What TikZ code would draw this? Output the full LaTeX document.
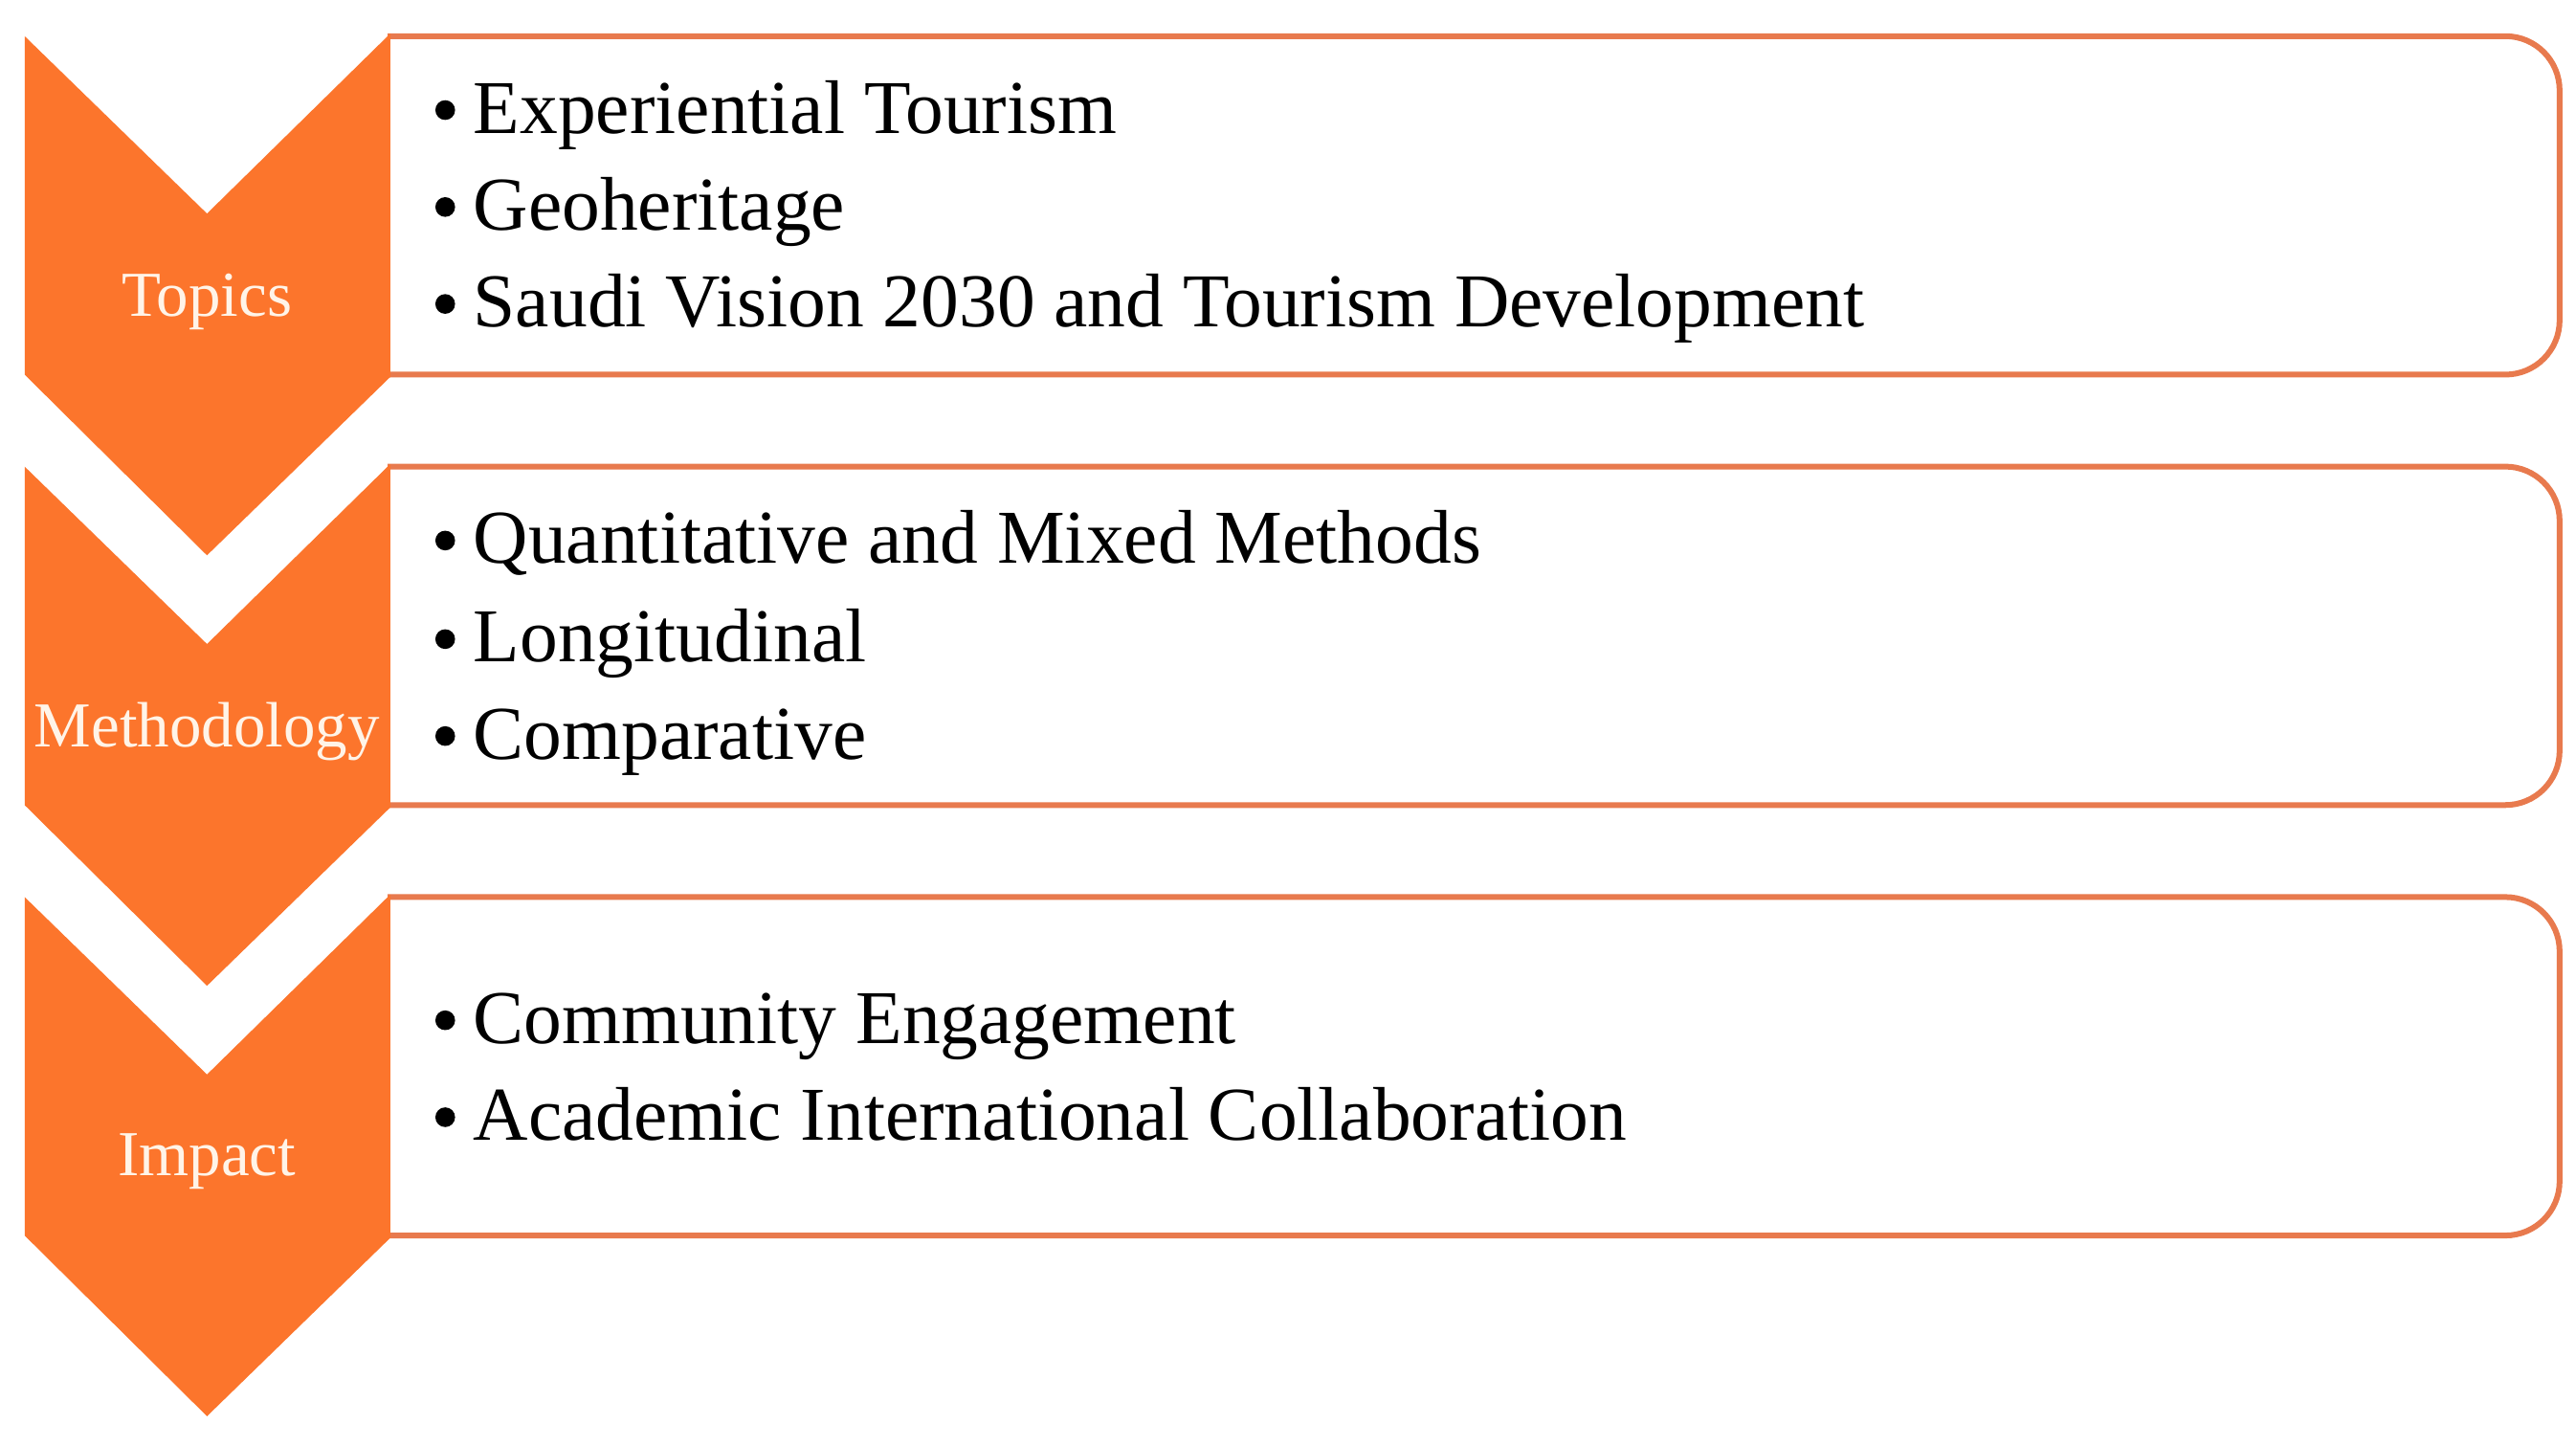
\documentclass[tikz,border=0pt]{standalone}
\usepackage{fontspec}
\setmainfont{Liberation Serif}
\definecolor{chevfill}{RGB}{252,117,44}
\definecolor{boxline}{RGB}{232,122,78}
\definecolor{labtext}{RGB}{255,244,232}
\tikzset{
  chev/.style={fill=chevfill, draw=none},
  itembox/.style={draw=boxline, line width=3.5pt, rounded corners=33pt},
  chevlabel/.style={text=labtext, font=\fontsize{39}{44}\selectfont, inner sep=0pt},
  item/.style={anchor=base west, font=\fontsize{46.3}{52}\selectfont, inner sep=0pt, text=black},
  bul/.style={circle, fill=black, inner sep=0pt, minimum size=12pt}
}
\begin{document}
\begin{tikzpicture}[x=1pt,y=-1pt]
\useasboundingbox (0,0) rectangle (1568,879);
\fill[white] (0,0) rectangle (1568,879);
% boxes (drawn first, chevrons on top)
\foreach \i/\t in {1/22,2/284,3/546}{
  \draw[itembox] (236,\t) -- (1558,\t) -- (1558,\t+206) -- (236,\t+206);
}
% chevrons
\foreach \i/\t in {1/22,2/284,3/546}{
  \fill[chev] (15,\t) -- (126,\t+108) -- (237.5,\t-1.5) -- (237.5,\t+207.5) -- (126,\t+316) -- (15,\t+206) -- cycle;
}
\node[chevlabel] (lab1) at (126,184) {Topics};
\node[chevlabel] (lab2) at (126,445) {Methodology};
\node[chevlabel] (lab3) at (126,707) {Impact};
% items
\foreach \n/\y/\txt in {
  a1/81/{Experiential Tourism},
  a2/140/{Geoheritage},
  a3/199/{Saudi Vision 2030 and Tourism Development},
  b1/343/{Quantitative and Mixed Methods},
  b2/403/{Longitudinal},
  b3/462/{Comparative},
  c1/635/{Community Engagement},
  c2/694/{Academic International Collaboration}}{
  \node[bul] (d\n) at (271,\y-14) {};
  \node[item] (\n) at (288,\y) {\txt};
}
\end{tikzpicture}
\end{document}
